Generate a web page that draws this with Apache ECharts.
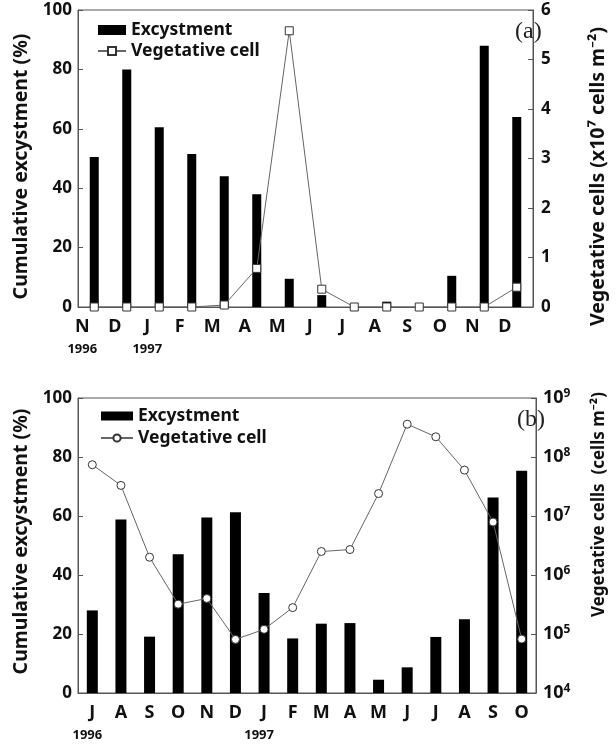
<!DOCTYPE html>
<html>
<head>
<meta charset="utf-8">
<script src="https://cdn.jsdelivr.net/npm/echarts@6/dist/echarts.min.js"></script>
<style>html,body{margin:0;padding:0;background:#fff}#c{width:616px;height:746px}</style>
</head>
<body>
<div id="c"></div>
<script>
// ---- data (a) ----
const monthsA = ['N','D','J','F','M','A','M','J','J','A','S','O','N','D'];
const excystA = [50.5, 80, 60.5, 51.5, 44, 38, 9.5, 4, 0, 1.8, 0, 10.5, 88, 64];
const vegA = [0, 0, 0, 0, 0.04, 0.78, 5.58, 0.36, 0, 0, 0, 0, 0, 0.4];
// ---- data (b) ----
const monthsB = ['J','A','S','O','N','D','J','F','M','A','M','J','J','A','S','O'];
const excystB = [28, 58.8, 19.1, 47, 59.5, 61.3, 33.9, 18.5, 23.5, 23.7, 4.5, 8.7, 19, 25, 66.3, 75.3];
const vegB = [7.4e7, 3.3e7, 2.0e6, 3.2e5, 4.0e5, 8.1e4, 1.2e5, 2.8e5, 2.5e6, 2.7e6, 2.4e7, 3.6e8, 2.2e8, 6.0e7, 7.9e6, 8.2e4];
const yearA = {0: '1996', 2: '1997'};
const yearB = {0: '1996', 6: '1997'};

const FONT = 'Noto Sans';
const txt = {fontFamily: FONT, fontWeight: 'bold', color: '#111'};
const axisLineStyle = {color: '#555', width: 1};

function xLabel(years, shift, yshift) {
  return {
    interval: 0, margin: 9,
    formatter: (v, i) => years[i] !== undefined ? v + '\n{yr|' + years[i] + '}' : v,
    fontFamily: FONT, fontWeight: 'bold', fontSize: 18, color: '#111', lineHeight: 22,
    padding: [0, shift, 0, 0],
    rich: {yr: {fontFamily: FONT, fontWeight: 'bold', fontSize: 13, color: '#111', lineHeight: 22, padding: [0, yshift, 0, 0]}}
  };
}

const chart = echarts.init(document.getElementById('c'));
chart.setOption({
  animation: false,
  backgroundColor: '#fff',
  title: [
    {text: '(a)', left: 510, top: 15, textStyle: {fontFamily: 'Liberation Serif', fontSize: 24, fontWeight: 'normal', color: '#222'}},
    {text: '(b)', left: 512, top: 403, textStyle: {fontFamily: 'Liberation Serif', fontSize: 24, fontWeight: 'normal', color: '#222'}}
  ],
  legend: [
    {left: 97, top: 21, padding: 0, orient: 'vertical', itemWidth: 28, itemHeight: 10, itemGap: 3,
     data: [{name: 'Excystment', icon: 'rect'}, 'Vegetative cell'],
     textStyle: {fontFamily: FONT, fontWeight: 'bold', fontSize: 17.5, color: '#111'}},
    {left: 100, top: 407, padding: 0, orient: 'vertical', itemWidth: 32, itemHeight: 9, itemGap: 4,
     data: [{name: 'b-Excystment', icon: 'rect'}, 'b-Vegetative cell'],
     formatter: n => n.replace(/^b-/, ''),
     textStyle: {fontFamily: FONT, fontWeight: 'bold', fontSize: 17.5, color: '#111'}}
  ],
  grid: [
    {left: 78, right: 66, top: 10, height: 297, show: true, borderColor: '#555', borderWidth: 1},
    {left: 78, right: 66, top: 398, height: 298, show: true, borderColor: '#555', borderWidth: 1}
  ],
  xAxis: [
    {gridIndex: 0, type: 'category', data: monthsA, boundaryGap: true,
     axisLine: {lineStyle: axisLineStyle}, axisTick: {inside: true, length: 4, lineStyle: axisLineStyle},
     axisLabel: xLabel(yearA, 24, 0)},
    {gridIndex: 1, type: 'category', data: monthsB, boundaryGap: true,
     axisLine: {lineStyle: axisLineStyle}, axisTick: {inside: true, length: 4, lineStyle: axisLineStyle},
     axisLabel: xLabel(yearB, 0, 10)}
  ],
  yAxis: [
    {gridIndex: 0, type: 'value', min: 0, max: 100, interval: 20, position: 'left',
     name: 'Cumulative excystment (%)', nameLocation: 'middle', nameGap: 45, nameRotate: 90,
     nameTextStyle: Object.assign({fontSize: 19.5, padding: [0, 16, 0, 0]}, txt),
     axisLine: {show: true, lineStyle: axisLineStyle}, axisTick: {show: true, inside: true, length: 5, lineStyle: axisLineStyle},
     splitLine: {show: false}, axisLabel: Object.assign({fontSize: 17, margin: 6}, txt)},
    {gridIndex: 0, type: 'value', min: 0, max: 6, interval: 1, position: 'right',
     name: 'Vegetative cells (x10\u2077 cells m\u207B\u00B2)', nameLocation: 'middle', nameGap: 55, nameRotate: 90,
     nameTextStyle: Object.assign({fontSize: 19.5, padding: [0, 36, 0, 0]}, txt),
     axisLine: {show: true, lineStyle: axisLineStyle}, axisTick: {show: true, inside: true, length: 5, lineStyle: axisLineStyle},
     splitLine: {show: false}, axisLabel: Object.assign({fontSize: 17, margin: 8}, txt)},
    {gridIndex: 1, type: 'value', min: 0, max: 100, interval: 20, position: 'left',
     name: 'Cumulative excystment (%)', nameLocation: 'middle', nameGap: 45, nameRotate: 90,
     nameTextStyle: Object.assign({fontSize: 19.5, padding: [0, 0, 0, 8]}, txt),
     axisLine: {show: true, lineStyle: axisLineStyle}, axisTick: {show: true, inside: true, length: 5, lineStyle: axisLineStyle},
     splitLine: {show: false}, axisLabel: Object.assign({fontSize: 17, margin: 6}, txt)},
    {gridIndex: 1, type: 'log', logBase: 10, min: 1e4, max: 1e9, position: 'right',
     name: 'Vegetative cells  (cells m\u207B\u00B2)', nameLocation: 'middle', nameGap: 55, nameRotate: 90,
     nameTextStyle: Object.assign({fontSize: 17, padding: [0, 0, 0, 82]}, txt),
     axisLine: {show: true, lineStyle: axisLineStyle}, axisTick: {show: true, inside: true, length: 5, lineStyle: axisLineStyle},
     splitLine: {show: false},
     axisLabel: {margin: 7, fontFamily: FONT, fontWeight: 'bold', fontSize: 18, color: '#111',
       formatter: v => '10{s|' + Math.round(Math.log10(v)) + '}',
       rich: {s: {fontFamily: FONT, fontWeight: 'bold', fontSize: 12, color: '#111', padding: [0, 0, 9, 0]}}}}
  ],
  series: [
    {name: 'Excystment', type: 'bar', xAxisIndex: 0, yAxisIndex: 0, data: excystA, barWidth: 9,
     itemStyle: {color: '#000'}},
    {name: 'Vegetative cell', type: 'line', xAxisIndex: 0, yAxisIndex: 1, data: vegA,
     symbol: 'rect', symbolSize: 8, showAllSymbol: true,
     itemStyle: {color: '#fff', borderColor: '#333', borderWidth: 1},
     lineStyle: {color: '#666', width: 1}},
    {name: 'b-Excystment', type: 'bar', xAxisIndex: 1, yAxisIndex: 2, data: excystB, barWidth: 11,
     itemStyle: {color: '#000'}},
    {name: 'b-Vegetative cell', type: 'line', xAxisIndex: 1, yAxisIndex: 3, data: vegB,
     symbol: 'circle', symbolSize: 8, showAllSymbol: true,
     itemStyle: {color: '#fff', borderColor: '#333', borderWidth: 1},
     lineStyle: {color: '#666', width: 1}}
  ]
});
</script>
</body>
</html>
